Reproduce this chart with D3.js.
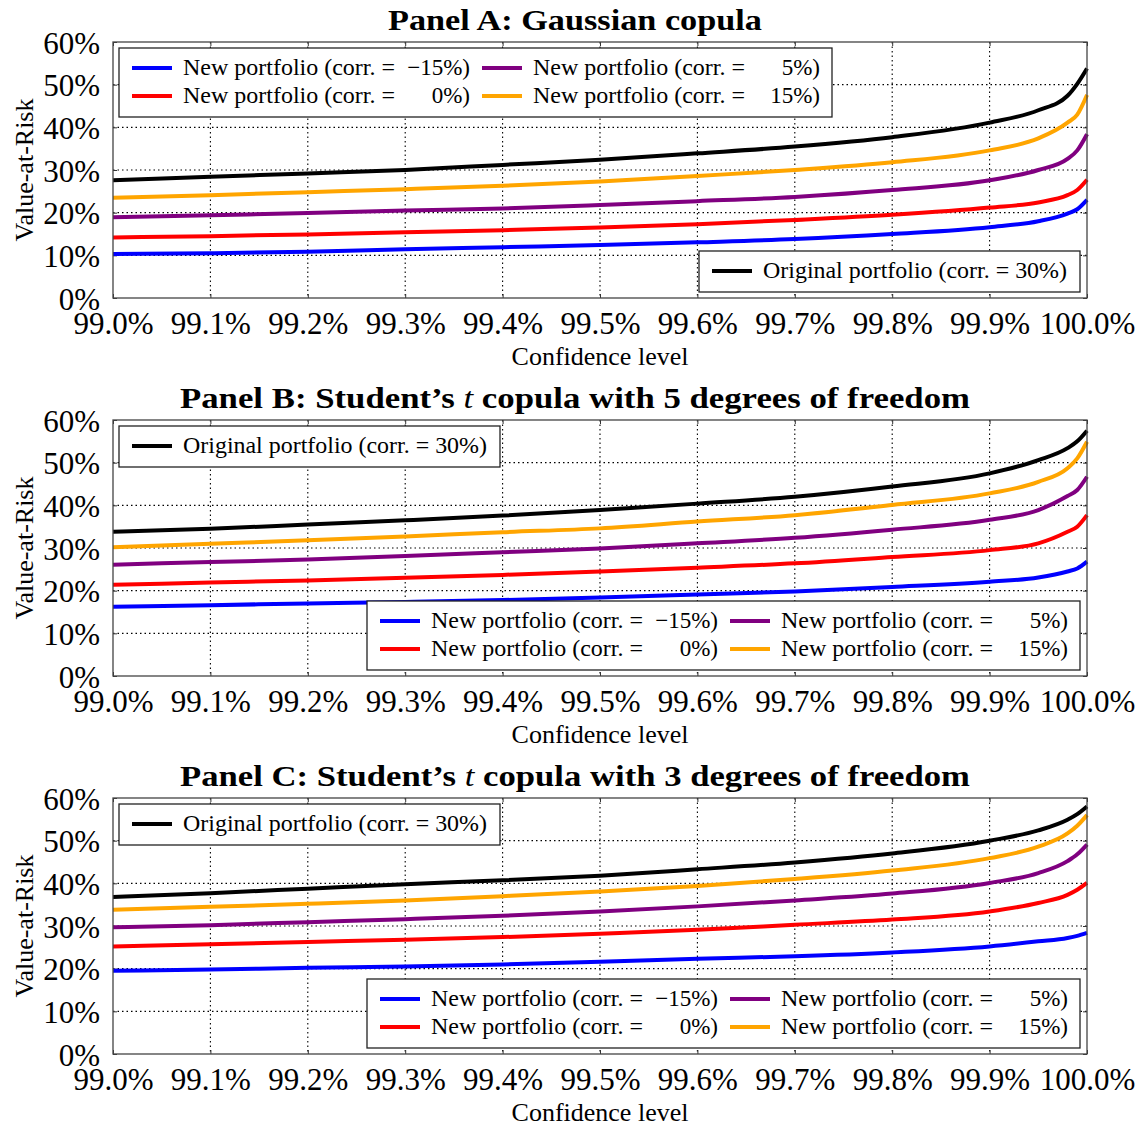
<!DOCTYPE html>
<html>
<head>
<meta charset="utf-8">
<script src="https://cdn.jsdelivr.net/npm/d3@7"></script>
<style>
  body { margin: 0; background: #fff; }
  svg { display: block; }
</style>
</head>
<body>
<svg id="fig" width="1141" height="1126"></svg>
<script>
// Confidence levels (in %) at which the VaR curves are sampled
const confidence = [99.0, 99.1, 99.2, 99.3, 99.4, 99.5, 99.6, 99.7, 99.8, 99.9, 99.95, 99.98, 99.99, 100.0];

// Panel A: Gaussian copula (VaR in %)
const gaussOriginal = [27.6, 28.4, 29.2, 30.0, 31.2, 32.4, 33.9, 35.5, 37.7, 41.1, 44.0, 47.4, 50.2, 53.8];
const gaussPos15    = [23.5, 24.1, 24.8, 25.5, 26.3, 27.3, 28.6, 30.0, 31.8, 34.6, 37.4, 41.1, 43.0, 47.6];
const gaussPos5     = [18.9, 19.4, 19.9, 20.5, 21.0, 21.8, 22.7, 23.7, 25.3, 27.6, 30.0, 32.6, 34.6, 38.4];
const gaussZero     = [14.2, 14.5, 14.9, 15.4, 15.9, 16.5, 17.3, 18.3, 19.5, 21.2, 22.4, 24.1, 25.3, 27.7];
const gaussNeg15    = [10.3, 10.5, 10.85, 11.4, 11.9, 12.4, 13.05, 13.8, 15.0, 16.6, 18.0, 19.8, 20.8, 23.0];

// Panel B: Student's t copula, 5 degrees of freedom
const t5Original = [33.8, 34.5, 35.5, 36.5, 37.6, 38.9, 40.4, 42.0, 44.4, 47.5, 50.6, 53.4, 55.0, 57.5];
const t5Pos15    = [30.2, 31.0, 31.8, 32.7, 33.7, 34.6, 36.2, 37.7, 40.1, 42.8, 45.5, 48.7, 51.0, 54.9];
const t5Pos5     = [26.1, 26.7, 27.3, 28.1, 29.0, 29.9, 31.1, 32.4, 34.3, 36.6, 38.9, 42.2, 43.6, 46.7];
const t5Zero     = [21.4, 21.9, 22.4, 23.0, 23.7, 24.5, 25.4, 26.4, 27.9, 29.5, 31.1, 33.8, 35.0, 37.7];
const t5Neg15    = [16.25, 16.6, 17.0, 17.35, 17.8, 18.4, 19.1, 19.8, 20.85, 22.1, 23.1, 24.5, 25.2, 26.8];

// Panel C: Student's t copula, 3 degrees of freedom
const t3Original = [36.8, 37.7, 38.75, 39.8, 40.7, 41.8, 43.3, 44.9, 47.0, 50.0, 52.4, 54.9, 56.2, 58.0];
const t3Pos15    = [33.8, 34.5, 35.2, 36.0, 37.0, 38.1, 39.4, 41.0, 43.0, 45.9, 48.6, 51.7, 53.5, 56.0];
const t3Pos5     = [29.7, 30.2, 30.9, 31.6, 32.4, 33.4, 34.6, 36.0, 37.6, 40.1, 42.4, 45.2, 46.8, 49.1];
const t3Zero     = [25.2, 25.7, 26.25, 26.8, 27.4, 28.2, 29.1, 30.3, 31.5, 33.4, 35.4, 37.3, 38.5, 40.1];
const t3Neg15    = [19.5, 19.8, 20.2, 20.5, 21.0, 21.6, 22.3, 22.9, 23.8, 25.2, 26.4, 27.2, 27.7, 28.4];

// Axis ticks and labels
const xTicks = [99.0, 99.1, 99.2, 99.3, 99.4, 99.5, 99.6, 99.7, 99.8, 99.9, 100.0];
const xTickLabels = ["99.0%", "99.1%", "99.2%", "99.3%", "99.4%", "99.5%", "99.6%", "99.7%", "99.8%", "99.9%", "100.0%"];
const yTicks = [0, 10, 20, 30, 40, 50, 60];
const yTickLabels = ["0%", "10%", "20%", "30%", "40%", "50%", "60%"];

// Series: legend wording and colours
const seriesCorr = ["\u221215%", "0%", "5%", "15%"];
const newColors = ["#0000ff", "#ff0000", "#800080", "#ffa500"];
const originalLabel = "Original portfolio (corr. = 30%)";
const originalColor = "#000000";

const panelTitles = [
  ["Panel A: Gaussian copula"],
  ["Panel B: Student\u2019s ", "t", " copula with 5 degrees of freedom"],
  ["Panel C: Student\u2019s ", "t", " copula with 3 degrees of freedom"]
];
const panelData = [
  { original: gaussOriginal, news: [gaussNeg15, gaussZero, gaussPos5, gaussPos15] },
  { original: t5Original,    news: [t5Neg15, t5Zero, t5Pos5, t5Pos15] },
  { original: t3Original,    news: [t3Neg15, t3Zero, t3Pos5, t3Pos15] }
];
// where each legend sits inside the axes
const legendCorners = [
  { news: "topLeft", original: "bottomRight" },
  { news: "bottomRight", original: "topLeft" },
  { news: "bottomRight", original: "topLeft" }
];

// ---- layout ----
const FONT = "'Liberation Serif', 'Times New Roman', serif";
const left = 113, right = 1087, plotH = 256;
const panelTops = [42, 420, 798];
const titleWidths = [374, 790, 790];

const svg = d3.select("#fig");
const x = d3.scaleLinear().domain([99.0, 100.0]).range([left, right]);

panelData.forEach((pd, i) => {
  const top = panelTops[i], bottom = top + plotH;
  const y = d3.scaleLinear().domain([0, 60]).range([bottom, top]);
  const g = svg.append("g");

  // title
  const title = g.append("text")
    .attr("x", 575).attr("y", top - 12)
    .attr("text-anchor", "middle")
    .attr("font-family", FONT).attr("font-weight", "bold").attr("font-size", 30)
    .attr("textLength", titleWidths[i]).attr("lengthAdjust", "spacingAndGlyphs");
  panelTitles[i].forEach(part => {
    const ts = title.append("tspan").text(part);
    if (part === "t") ts.attr("font-style", "italic").attr("font-weight", "normal");
  });

  // dotted grid
  g.append("g").selectAll("line").data(yTicks.slice(1, -1)).join("line")
    .attr("x1", left).attr("x2", right)
    .attr("y1", d => y(d)).attr("y2", d => y(d))
    .attr("stroke", "#000").attr("stroke-width", 1.1).attr("stroke-dasharray", "1.5,3");
  g.append("g").selectAll("line").data(xTicks.slice(1, -1)).join("line")
    .attr("y1", top).attr("y2", bottom)
    .attr("x1", d => x(d)).attr("x2", d => x(d))
    .attr("stroke", "#000").attr("stroke-width", 1.1).attr("stroke-dasharray", "1.5,3");

  // axes with inward ticks
  const fmtX = d => xTickLabels[xTicks.indexOf(d)];
  const fmtY = d => yTickLabels[yTicks.indexOf(d)];
  const styleAxis = sel => {
    sel.select(".domain").remove();
    sel.attr("font-family", FONT).attr("font-size", 31);
    sel.selectAll(".tick line").attr("stroke", "#333").attr("stroke-width", 1);
    sel.selectAll("text").attr("fill", "#000");
  };
  g.append("g").attr("transform", `translate(${left},0)`)
    .call(d3.axisLeft(y).tickValues(yTicks).tickFormat(fmtY).tickSize(-4).tickPadding(13))
    .call(styleAxis)
    .selectAll("text").attr("dy", "0.36em");
  g.append("g").attr("transform", `translate(${right},0)`)
    .call(d3.axisRight(y).tickValues(yTicks).tickFormat("").tickSize(-4))
    .call(styleAxis);
  g.append("g").attr("transform", `translate(0,${bottom})`)
    .call(d3.axisBottom(x).tickValues(xTicks).tickFormat(fmtX).tickSize(-4).tickPadding(14))
    .call(styleAxis);
  g.append("g").attr("transform", `translate(0,${top})`)
    .call(d3.axisTop(x).tickValues(xTicks).tickFormat("").tickSize(-4))
    .call(styleAxis);

  // curves
  const line = d3.line()
    .x((d, k) => x(confidence[k]))
    .y(d => y(d))
    .curve(d3.curveMonotoneX);
  const curves = pd.news.map((vals, k) => ({ vals, color: newColors[k] }))
    .concat([{ vals: pd.original, color: originalColor }]);
  g.append("g").selectAll("path").data(curves).join("path")
    .attr("d", d => line(d.vals))
    .attr("fill", "none")
    .attr("stroke", d => d.color)
    .attr("stroke-width", 4)
    .attr("stroke-linejoin", "round");

  // frame
  g.append("rect")
    .attr("x", left).attr("y", top).attr("width", right - left).attr("height", plotH)
    .attr("fill", "none").attr("stroke", "#444").attr("stroke-width", 1.3);

  // legends
  const place = (corner, w, h) => corner === "topLeft"
    ? [left + 6, top + 6]
    : [right - 7 - w, bottom - 6 - h];

  // new-portfolio legend: two columns, two rows
  {
    const w = 713, h = 69;
    const [lx, ly] = place(legendCorners[i].news, w, h);
    const lg = g.append("g").attr("transform", `translate(${lx},${ly})`);
    lg.append("rect").attr("width", w).attr("height", h)
      .attr("fill", "#fff").attr("stroke", "#222").attr("stroke-width", 1.3);
    seriesCorr.forEach((c, k) => {
      const col = Math.floor(k / 2), row = k % 2;
      const ox = col * 350, oy = 20 + row * 28;
      lg.append("line")
        .attr("x1", ox + 13).attr("x2", ox + 53).attr("y1", oy).attr("y2", oy)
        .attr("stroke", newColors[k]).attr("stroke-width", 4);
      lg.append("text")
        .attr("x", ox + 64).attr("y", oy).attr("dy", "0.32em")
        .attr("font-family", FONT).attr("font-size", 23)
        .attr("textLength", 212).attr("lengthAdjust", "spacingAndGlyphs")
        .text("New portfolio (corr. =");
      lg.append("text")
        .attr("x", ox + 351).attr("y", oy).attr("dy", "0.32em")
        .attr("text-anchor", "end")
        .attr("font-family", FONT).attr("font-size", 23)
        .text(c + ")");
    });
  }

  // original-portfolio legend
  {
    const w = 381, h = 41;
    const [lx, ly] = place(legendCorners[i].original, w, h);
    const lg = g.append("g").attr("transform", `translate(${lx},${ly})`);
    lg.append("rect").attr("width", w).attr("height", h)
      .attr("fill", "#fff").attr("stroke", "#222").attr("stroke-width", 1.3);
    lg.append("line")
      .attr("x1", 13).attr("x2", 53).attr("y1", 20).attr("y2", 20)
      .attr("stroke", originalColor).attr("stroke-width", 4);
    lg.append("text")
      .attr("x", 64).attr("y", 20).attr("dy", "0.32em")
      .attr("font-family", FONT).attr("font-size", 23)
      .attr("textLength", 304).attr("lengthAdjust", "spacingAndGlyphs")
      .text(originalLabel);
  }

  // axis titles
  g.append("text")
    .attr("x", (left + right) / 2).attr("y", bottom + 67)
    .attr("text-anchor", "middle")
    .attr("font-family", FONT).attr("font-size", 26)
    .text("Confidence level");
  g.append("text")
    .attr("transform", `translate(33,${(top + bottom) / 2}) rotate(-90)`)
    .attr("text-anchor", "middle")
    .attr("font-family", FONT).attr("font-size", 26)
    .text("Value-at-Risk");
});
</script>
</body>
</html>
